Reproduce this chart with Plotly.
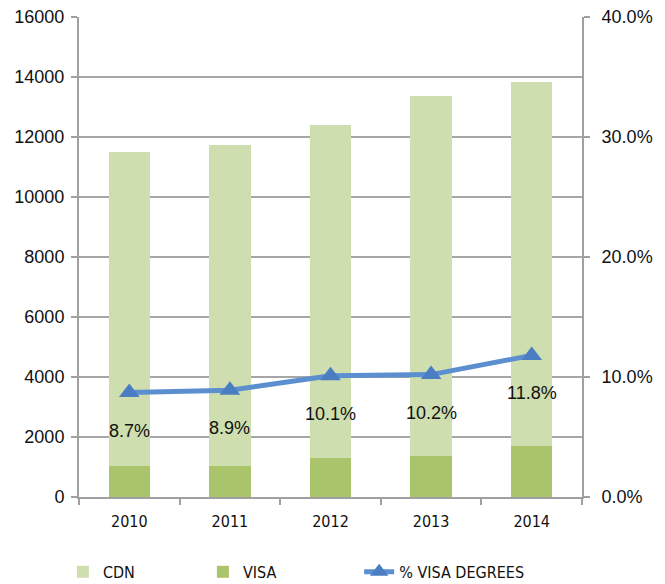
import plotly.graph_objects as go

years = ["2010", "2011", "2012", "2013", "2014"]
visa = [1040, 1040, 1300, 1370, 1700]
cdn = [10460, 10690, 11100, 12000, 12130]
pct_visa = [0.087, 0.089, 0.101, 0.102, 0.118]
pct_labels = ["8.7%", "8.9%", "10.1%", "10.2%", "11.8%"]

reg_font = "Liberation Sans, Arial, sans-serif"
narrow_font = "DejaVu Sans Condensed, Liberation Sans Narrow, Arial Narrow, sans-serif"

fig = go.Figure()
fig.add_trace(go.Bar(x=years, y=visa, name="VISA", marker=dict(color="#aac46c", line=dict(width=0)),
                     legendrank=2, legend="legend"))
fig.add_trace(go.Bar(x=years, y=cdn, name="CDN", marker=dict(color="#cfdeae", line=dict(width=0)),
                     legendrank=1, legend="legend"))
fig.add_trace(go.Scatter(x=years, y=pct_visa, name="% VISA DEGREES", yaxis="y2", mode="lines+markers",
                         line=dict(color="#5b8fcf", width=5),
                         marker=dict(symbol="triangle-up", size=18, color="#4a7dc2"),
                         legend="legend2"))

for i, (p, lab) in enumerate(zip(pct_visa, pct_labels)):
    fig.add_annotation(x=i, xref="x", y=p, yref="y2", text=lab, showarrow=False, yshift=-38,
                       font=dict(family=reg_font, size=18, color="#111"))

legend_font = dict(family=narrow_font, size=16, color="#111")
fig.update_layout(
    width=665, height=584,
    margin=dict(l=71, r=91, t=9, b=95, autoexpand=False),
    paper_bgcolor="white", plot_bgcolor="white",
    barmode="stack", bargap=0.59,
    showlegend=True,
    legend=dict(orientation="h", x=-0.032, xanchor="left", y=-0.156, yanchor="middle",
                font=legend_font, entrywidth=95, entrywidthmode="pixels", traceorder="normal"),
    legend2=dict(orientation="h", x=0.557, xanchor="left", y=-0.156, yanchor="middle",
                 font=legend_font),
    xaxis=dict(type="category", range=[-0.5, 4.5], showline=True, linecolor="#a0a0a0", linewidth=2,
               ticks="outside", tickson="boundaries", ticklen=6, tickcolor="#a0a0a0", tickwidth=2,
               ticklabelstandoff=9,
               tickfont=dict(family=narrow_font, size=16, color="#111"), showgrid=False),
    yaxis=dict(range=[0, 16000], dtick=2000, tickformat="d", showline=True, linecolor="#a0a0a0", linewidth=2,
               ticks="outside", ticklen=6, tickcolor="#a0a0a0", tickwidth=2,
               ticklabeloverflow="allow", ticklabelstandoff=3,
               showgrid=True, gridcolor="#a6a6a6", gridwidth=2,
               tickfont=dict(family=reg_font, size=18, color="#111"), zeroline=False),
    yaxis2=dict(range=[0, 0.4], dtick=0.1, tickformat=".1%", overlaying="y", side="right",
                showline=True, linecolor="#a0a0a0", linewidth=2,
                ticks="outside", ticklen=6, tickcolor="#a0a0a0", tickwidth=2,
                ticklabelstandoff=8, ticklabeloverflow="allow",
                showgrid=False, zeroline=False,
                tickfont=dict(family=reg_font, size=18, color="#111")),
)

fig.write_html("out.html")
